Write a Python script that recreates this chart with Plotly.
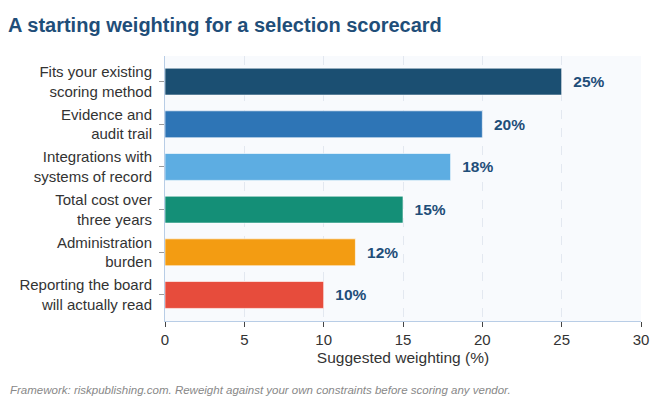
import plotly.graph_objects as go

criteria = [
    "Fits your existing<br>scoring method",
    "Evidence and<br>audit trail",
    "Integrations with<br>systems of record",
    "Total cost over<br>three years",
    "Administration<br>burden",
    "Reporting the board<br>will actually read",
]
weights = [25, 20, 18, 15, 12, 10]
bar_colors = ["#1b4f72", "#2e75b6", "#5dade2", "#148f77", "#f39c12", "#e74c3c"]
x_ticks = [0, 5, 10, 15, 20, 25, 30]

# page body has an 8px margin, so the figure is 8px smaller than the window
W, H = 659, 392
ml, mr, mt, mb = 157, 26, 48, 79
plot_w = W - ml - mr
plot_h = H - mt - mb

fig = go.Figure()
fig.add_trace(go.Bar(
    x=weights,
    y=criteria,
    orientation="h",
    marker=dict(color=bar_colors, line=dict(color="rgba(255,255,255,0.6)", width=1)),
    text=[f"  {w}%" for w in weights],
    textposition="outside",
    textfont=dict(family="Liberation Sans, Arial", size=15.5, color="#1f4e79", weight="bold"),
    cliponaxis=False,
    showlegend=False,
))

fig.update_xaxes(
    range=[0, 30],
    tickvals=x_ticks,
    ticks="outside",
    ticklen=5,
    tickcolor="#444",
    showline=True,
    linecolor="#b8cde6",
    showgrid=True,
    gridcolor="#e3e8f0",
    griddash="dash",
    zeroline=False,
    tickfont=dict(size=15, color="#333"),
    title=dict(text="Suggested weighting (%)", font=dict(size=15.5, color="#333"), standoff=5),
)
fig.update_yaxes(
    range=[5.61, -0.6],
    ticks="outside",
    ticklen=5,
    tickcolor="#999",
    ticklabelstandoff=4,
    showline=True,
    linecolor="#b8cde6",
    tickfont=dict(size=15, color="#333"),
)

fig.update_layout(
    width=W,
    height=H,
    margin=dict(l=ml, r=mr, t=mt, b=mb),
    bargap=0.37,
    plot_bgcolor="#f8fafd",
    paper_bgcolor="white",
    font=dict(family="Liberation Sans, Arial, sans-serif", color="#333"),
    title=dict(
        text="<b>A starting weighting for a selection scorecard</b>",
        x=0, xanchor="left", y=1 - 17 / H, yanchor="middle",
        font=dict(size=20, color="#1f4e79"),
    ),
    annotations=[dict(
        text="<i>Framework: riskpublishing.com. Reweight against your own constraints before scoring any vendor.</i>",
        xref="paper", yref="paper", x=-ml / plot_w, y=-(382 - (H - mb)) / plot_h,
        xanchor="left", yanchor="middle", showarrow=False,
        font=dict(size=11.5, color="#888"),
    )],
)

fig.write_html("out.html")
